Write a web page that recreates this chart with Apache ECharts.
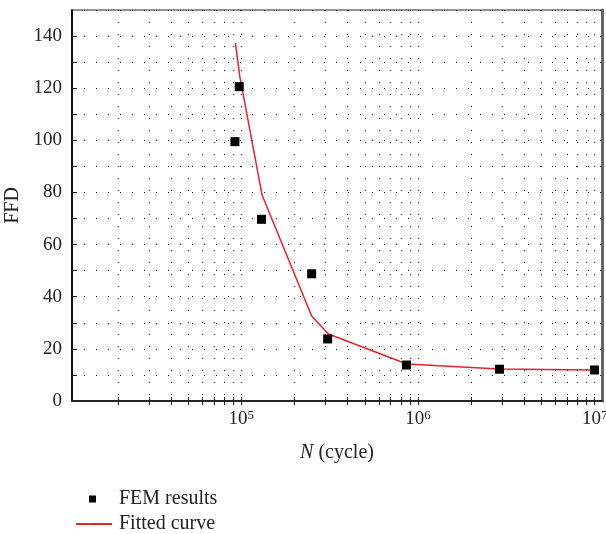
<!DOCTYPE html>
<html>
<head>
<meta charset="utf-8">
<script src="https://cdn.jsdelivr.net/npm/echarts@6/dist/echarts.min.js"></script>
<style>
  html, body { margin: 0; padding: 0; background: #fff; }
  #chart { width: 606px; height: 534px; }
</style>
</head>
<body>
<div id="chart"></div>
<script>
// FEM results (squares)
const femN = [9.2e4, 9.73e4, 1.3e5, 2.5e5, 3.08e5, 8.6e5, 2.89e6, 9.97e6];
const femFFD = [99.5, 120.6, 69.7, 48.8, 23.8, 13.8, 12.2, 11.9];
// fitted curve (red line)
const fitN = [9.25e4, 9.8e4, 1.31e5, 2.5e5, 3.11e5, 8.65e5, 2.88e6, 1.0e7];
const fitFFD = [137.4, 124.5, 79.0, 32.6, 25.7, 14.2, 12.3, 11.9];
// log axis ticks
const majorTicks = [1e5, 1e6, 1e7];
const allTicks = [
  2e4, 3e4, 4e4, 5e4, 6e4, 7e4, 8e4, 9e4, 1e5,
  2e5, 3e5, 4e5, 5e5, 6e5, 7e5, 8e5, 9e5, 1e6,
  2e6, 3e6, 4e6, 5e6, 6e6, 7e6, 8e6, 9e6, 1e7
];

const serif = "Liberation Serif";
const dots = { color: "#111", width: 1, type: [1, 11] };
const red = "#e8212b";

const chart = echarts.init(document.getElementById("chart"));

const xBase = {
  type: "log",
  logBase: 10,
  min: 1.1e4,
  max: 1.1e7,
  axisTick: { inside: true, length: 4, customValues: allTicks, lineStyle: { color: "#222" } },
  minorTick: { show: false },
};

chart.setOption({
  animation: false,
  grid: {
    left: 72, right: 4, top: 10, bottom: 133,
    outerBoundsMode: "none",
    containLabel: false,
    show: true, borderColor: "#222", borderWidth: 1, backgroundColor: "transparent"
  },
  legend: [
    {
      left: 84,
      top: 484,
      itemWidth: 7,
      itemHeight: 7,
      itemStyle: { opacity: 1 },
      textStyle: { fontFamily: serif, fontSize: 20, color: "#222", padding: [0, 0, 0, 18] },
      data: [{ name: "FEM results", icon: "rect" }],
    },
    {
      left: 70,
      top: 509,
      itemWidth: 36,
      itemHeight: 3,
      textStyle: { fontFamily: serif, fontSize: 20, color: "#222", padding: [0, 0, 0, 2] },
      data: ["Fitted curve"],
    },
  ],
  xAxis: [
    Object.assign({}, xBase, {
      position: "bottom",
      name: "{i|N} (cycle)",
      nameLocation: "middle",
      nameGap: 42,
      nameTextStyle: {
        fontFamily: serif, fontSize: 20, color: "#222",
        rich: { i: { fontFamily: serif, fontSize: 20, fontStyle: "italic", color: "#222" } },
      },
      axisLine: { show: true, lineStyle: { color: "#333", width: 2 } },
      axisLabel: {
        customValues: majorTicks,
        margin: 8,
        formatter: (v) => "{b|10}{s|" + Math.round(Math.log10(v)) + "}",
        rich: {
          b: { fontFamily: serif, fontSize: 19, color: "#222" },
          s: { fontFamily: serif, fontSize: 13, color: "#222", verticalAlign: "top", padding: [0, 0, 7, 0] },
        },
      },
      splitLine: { show: true, lineStyle: dots },
    }),
    Object.assign({}, xBase, {
      position: "top",
      axisLine: { show: true, lineStyle: { color: "#222", width: 1.5 } },
      axisLabel: { show: false },
      splitLine: { show: false },
    }),
  ],
  yAxis: [
    {
      type: "value",
      min: 0,
      max: 150,
      interval: 10,
      name: "FFD",
      nameLocation: "middle",
      nameGap: 45,
      nameTextStyle: { fontFamily: serif, fontSize: 20, color: "#222" },
      axisLine: { show: true, lineStyle: { color: "#111", width: 2 } },
      axisTick: { inside: true, length: 5, lineStyle: { color: "#222" } },
      axisLabel: {
        margin: 10,
        fontFamily: serif, fontSize: 19, color: "#222",
        showMaxLabel: false,
        formatter: (v) => (v % 20 === 0 ? String(v) : ""),
      },
      splitLine: { show: true, lineStyle: dots },
    },
    {
      type: "value",
      position: "right",
      min: 0,
      max: 150,
      interval: 10,
      axisLine: { show: true, lineStyle: { color: "#666", width: 3 } },
      axisTick: { show: false },
      axisLabel: { show: false },
      splitLine: { show: false },
    },
  ],
  series: [
    {
      name: "Fitted curve",
      type: "line",
      data: fitN.map((n, i) => [n, fitFFD[i]]),
      showSymbol: false,
      symbol: "circle",
      symbolSize: 3,
      itemStyle: { color: red },
      lineStyle: { color: red, width: 1.5 },
      z: 3,
    },
    {
      name: "FEM results",
      type: "scatter",
      data: femN.map((n, i) => [n, femFFD[i]]),
      symbol: "rect",
      symbolSize: 9,
      itemStyle: { color: "#000", opacity: 1 },
      z: 4,
    },
  ],
});
</script>
</body>
</html>
